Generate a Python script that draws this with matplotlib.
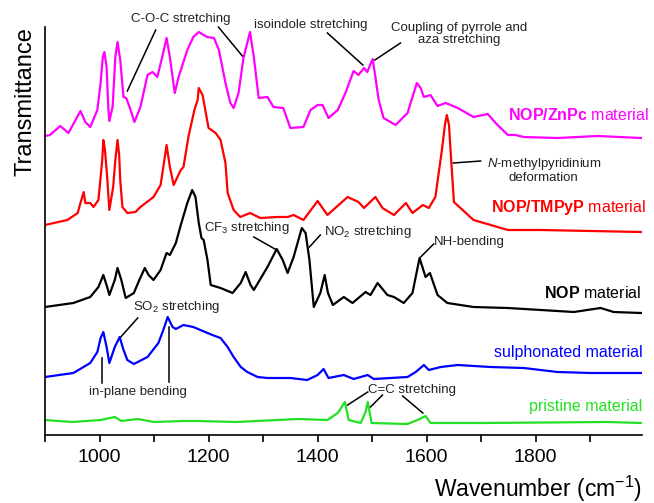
import numpy as np
import matplotlib.pyplot as plt

plt.rcParams['font.family'] = ['Liberation Sans', 'DejaVu Sans']
plt.rcParams['mathtext.fontset'] = 'custom'
plt.rcParams['mathtext.rm'] = 'Liberation Sans'
plt.rcParams['mathtext.bf'] = 'Liberation Sans:bold'
plt.rcParams['mathtext.it'] = 'Liberation Sans:italic'

# spectra (wavenumber, transmittance in arbitrary offset units)
znpc_x = [900, 909, 928, 943, 956, 965, 974, 983, 996, 1002, 1006, 1009, 1013, 1016, 1018, 1024,
          1029, 1033, 1038, 1044, 1049, 1057, 1064, 1075, 1088, 1097, 1106, 1115, 1123, 1129,
          1138, 1145, 1161, 1172, 1182, 1197, 1210, 1219, 1231, 1240, 1246, 1255, 1264, 1276,
          1283, 1292, 1308, 1319, 1337, 1350, 1374, 1387, 1400, 1409, 1420, 1437, 1451, 1466,
          1475, 1485, 1491, 1501, 1506, 1512, 1521, 1543, 1565, 1574, 1582, 1589, 1595, 1607,
          1620, 1635, 1657, 1686, 1712, 1730, 1749, 1763, 1778, 1840, 1914, 1993]
znpc_y = [299, 300, 309, 302, 315, 324, 313, 308, 325, 352, 378, 383, 368, 328, 314, 328,
          378, 393, 375, 338, 337, 325, 313, 328, 360, 363, 358, 378, 397, 378,
          342, 358, 385, 398, 403, 398, 397, 385, 352, 332, 327, 342, 377, 403,
          378, 337, 338, 328, 327, 307, 308, 325, 330, 330, 317, 325, 342, 364,
          360, 367, 363, 376, 358, 335, 317, 310, 322, 338, 352, 347, 338, 340,
          329, 332, 327, 318, 321, 310, 300, 300, 298, 297, 299, 297]

tmpyp_x = [900, 941, 960, 965, 971, 974, 983, 989, 998, 1005, 1007, 1010, 1014, 1018, 1025, 1029,
           1033, 1036, 1038, 1042, 1051, 1066, 1075, 1099, 1112, 1117, 1123, 1129, 1136, 1149,
           1154, 1163, 1174, 1180, 1182, 1189, 1194, 1200, 1213, 1222, 1231, 1235, 1246, 1258,
           1276, 1295, 1326, 1345, 1356, 1374, 1400, 1418, 1455, 1475, 1485, 1506, 1519, 1540,
           1562, 1574, 1593, 1604, 1616, 1628, 1634, 1637, 1641, 1645, 1650, 1686, 1749, 1809, 1993]
tmpyp_y = [210, 215, 222, 232, 243, 232, 232, 228, 235, 275, 295, 285, 258, 225, 248, 275,
           295, 280, 255, 228, 222, 223, 228, 238, 250, 268, 290, 268, 250, 265,
           268, 298, 325, 335, 347, 340, 325, 307, 302, 295, 272, 242, 225, 218,
           222, 217, 218, 218, 220, 215, 234, 220, 238, 233, 227, 238, 227, 220,
           232, 222, 230, 227, 238, 285, 312, 320, 310, 275, 233, 215, 205, 205, 203]

nop_x = [900, 952, 983, 998, 1007, 1014, 1018, 1028, 1033, 1040, 1048, 1063, 1073, 1083, 1090, 1099,
         1112, 1123, 1129, 1140, 1148, 1161, 1170, 1176, 1182, 1187, 1191, 1198, 1204, 1222, 1244,
         1259, 1268, 1277, 1283, 1308, 1325, 1336, 1345, 1356, 1371, 1378, 1385, 1393, 1405, 1413,
         1419, 1428, 1448, 1464, 1488, 1497, 1510, 1528, 1540, 1558, 1574, 1587, 1598, 1606, 1620,
         1638, 1686, 1749, 1870, 1919, 1943, 1993]
nop_y = [128, 132, 138, 148, 160, 148, 140, 155, 167, 155, 137, 142, 155, 167, 160, 155,
         165, 182, 180, 192, 208, 232, 245, 238, 212, 197, 195, 175, 150, 147, 142,
         152, 163, 150, 145, 168, 186, 175, 162, 178, 207, 202, 175, 128, 142, 160,
         142, 130, 138, 132, 143, 140, 152, 140, 138, 132, 142, 177, 158, 162, 140,
         132, 128, 127, 123, 127, 123, 122]

sulph_x = [900, 952, 983, 996, 1002, 1007, 1013, 1018, 1028, 1037, 1044, 1051, 1063, 1088, 1108, 1117,
           1125, 1134, 1140, 1154, 1172, 1185, 1207, 1222, 1235, 1246, 1259, 1271, 1290, 1308, 1350,
           1381, 1400, 1411, 1420, 1448, 1466, 1492, 1503, 1565, 1580, 1595, 1604, 1626, 1657, 1717,
           1778, 1840, 1901, 1993]
sulph_y = [58, 62, 72, 83, 97, 103, 88, 72, 88, 98, 85, 75, 71, 78, 92, 105,
           118, 108, 106, 110, 108, 105, 100, 97, 88, 78, 68, 63, 58, 57, 57,
           55, 60, 66, 57, 60, 56, 60, 56, 58, 63, 70, 65, 68, 70, 68,
           67, 63, 62, 62]

prist_x = [900, 950, 1002, 1028, 1040, 1070, 1100, 1154, 1180, 1250, 1365, 1418, 1437, 1450, 1457,
           1479, 1488, 1492, 1499, 1565, 1583, 1598, 1607, 1700, 1932, 1993]
prist_y = [15, 13, 15, 18, 14, 16, 13, 14, 14, 13, 16, 15, 22, 33, 15,
           12, 23, 33, 12, 11, 15, 19, 12, 12, 13, 12]

fig = plt.figure(figsize=(6.54, 5.03), dpi=100)
ax = fig.add_axes([45 / 654, 68 / 503, 597 / 654, 408 / 503])

lw = 1.6
style = dict(lw=lw, solid_joinstyle='round')
ax.plot(znpc_x, znpc_y, color='#ff00ff', **style)
ax.plot(tmpyp_x, tmpyp_y, color='#ff0000', **style)
ax.plot(nop_x, nop_y, color='black', **style)
ax.plot(sulph_x, sulph_y, color='#0000ff', **style)
ax.plot(prist_x, prist_y, color='#22e022', **style)

ax.set_xlim(900, 1995)
ax.set_ylim(0, 408)
ax.set_xticks([1000, 1200, 1400, 1600, 1800])
ax.set_xticks(np.arange(900, 2000, 100), minor=True)
ax.tick_params(axis='x', which='both', direction='out', length=5, width=1.2, labelsize=14, pad=5)
ax.set_yticks([])
ax.spines['top'].set_visible(False)
ax.spines['right'].set_visible(False)
ax.spines['left'].set_linewidth(1.2)
ax.spines['bottom'].set_linewidth(1.2)
ax.set_xlabel('Wavenumber (cm$^{-1}$)', fontsize=16.5, loc='right', labelpad=6)
ax.set_ylabel('Transmittance', fontsize=17, loc='top', labelpad=6)

fs = 9.5
tc = '#222222'

def note(x, y, s, **kw):
    ax.text(x, y, s, fontsize=fs, color=tc, ha='center', va='center', clip_on=False, **kw)

def line(x0, y0, x1, y1):
    ax.plot([x0, x1], [y0, y1], color='black', lw=1.1, clip_on=False)

note(1149, 416, 'C-O-C stretching')
line(1103, 405, 1051, 344)
line(1218, 408, 1262, 379)

note(1387, 410, 'isoindole stretching')
line(1418, 402, 1483, 370)

note(1659, 401, 'Coupling of pyrrole and\naza stretching', linespacing=1.0)
line(1552, 392, 1505, 375)

note(1815, 265, '$\\mathit{N}$-methylpyridinium\ndeformation', linespacing=1.1)
line(1649, 272, 1699, 274)

note(1270, 207, 'CF$_3$ stretching')
line(1283, 198, 1325, 185)

ax.text(1411, 203, 'NO$_2$ stretching', fontsize=fs, color=tc, ha='left', va='center')
line(1405, 200, 1385, 188)

ax.text(1613, 193, 'NH-bending', fontsize=fs, color=tc, ha='left', va='center')
line(1613, 191, 1589, 178)

ax.text(1061, 128, 'SO$_2$ stretching', fontsize=fs, color=tc, ha='left', va='center')
line(1070, 117, 1039, 98)

note(1070, 43, 'in-plane bending')
line(1004, 77, 1004, 52)
line(1127, 108, 1127, 53)

note(1574, 45, 'C=C stretching')
line(1492, 43, 1455, 30)
line(1519, 40, 1497, 28)
line(1556, 39, 1593, 22)

ms = 11.5
ax.text(2008, 320, '$\\mathbf{NOP/ZnPc}$ material', fontsize=ms, color='#ff00ff', ha='right', va='center', clip_on=False)
ax.text(2002, 227, '$\\mathbf{NOP/TMPyP}$ material', fontsize=ms, color='#ff0000', ha='right', va='center', clip_on=False)
ax.text(1993, 142, '$\\mathbf{NOP}$ material', fontsize=ms, color='black', ha='right', va='center', clip_on=False)
ax.text(1996, 82, 'sulphonated material', fontsize=ms, color='#0000ff', ha='right', va='center', clip_on=False)
ax.text(1996, 29, 'pristine material', fontsize=ms, color='#22e022', ha='right', va='center', clip_on=False)

fig.savefig('out.png', dpi=100)
